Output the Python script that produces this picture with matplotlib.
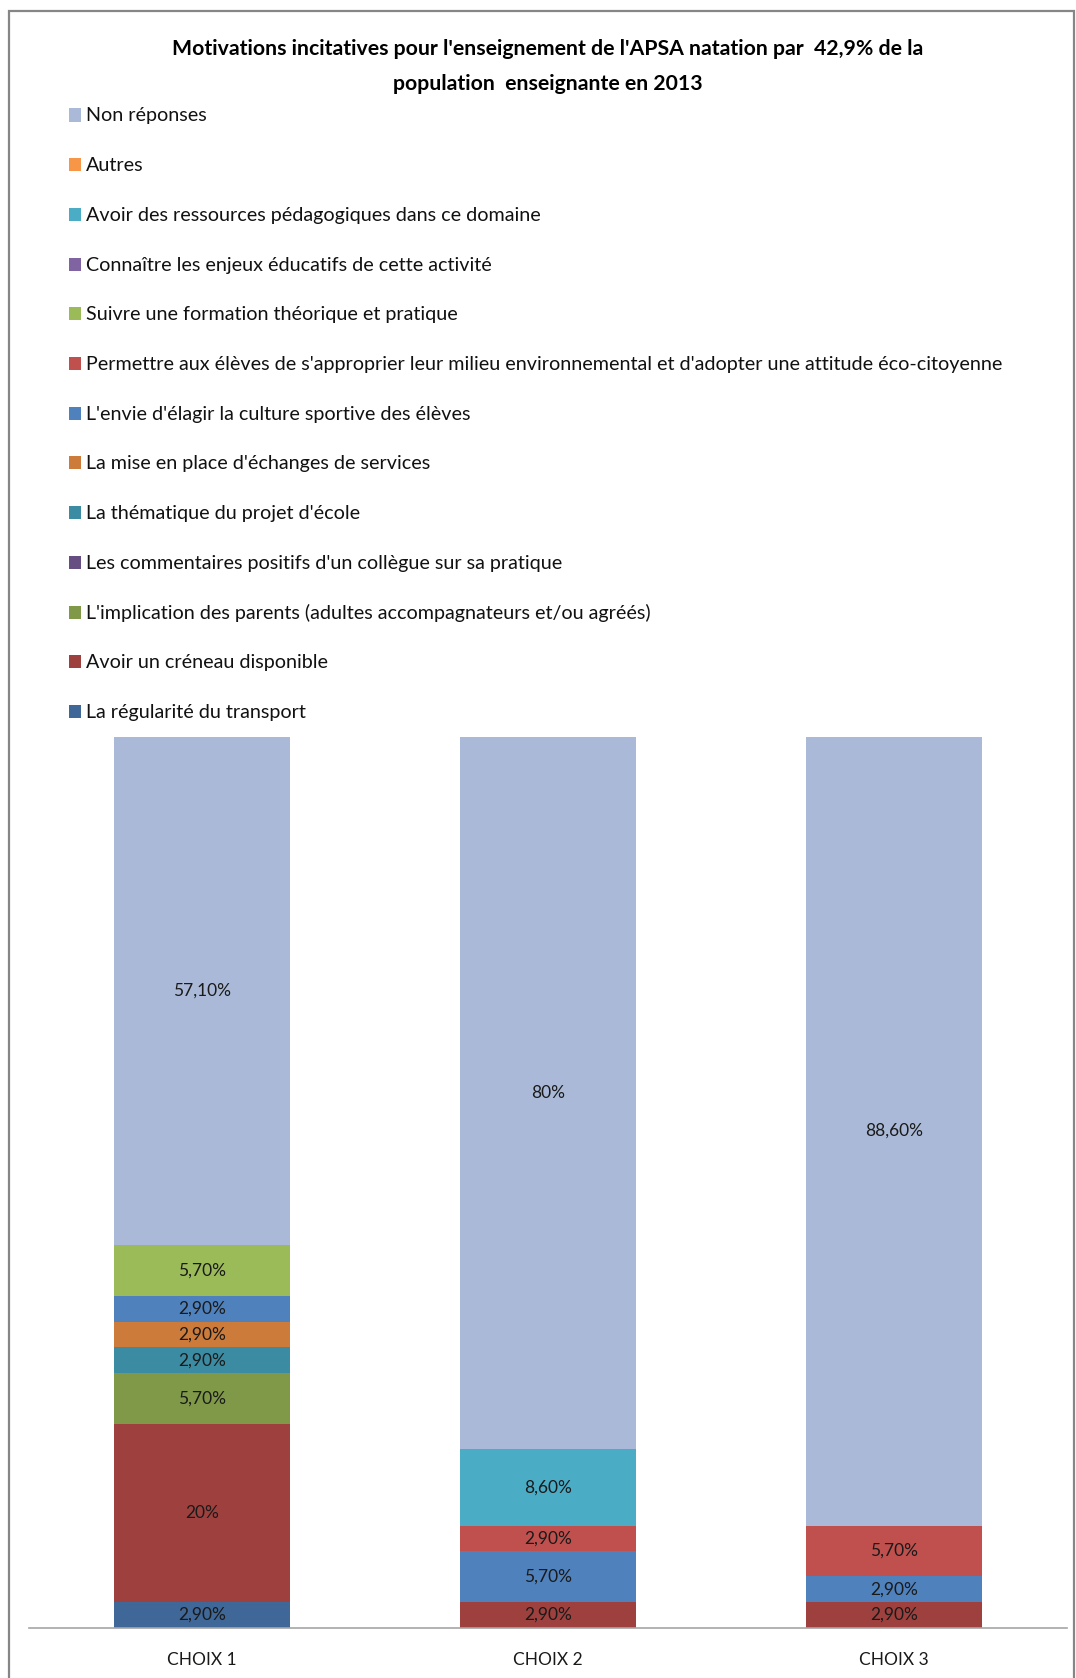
import matplotlib
matplotlib.use("Agg")
import matplotlib.pyplot as plt
from matplotlib.patches import Rectangle
import numpy as np

plt.rcParams['font.family'] = ['Lato', 'DejaVu Sans']

categories = ['CHOIX 1', 'CHOIX 2', 'CHOIX 3']

# series from bottom of the stack to the top
names = [
    "La régularité du transport",
    "Avoir un créneau disponible",
    "L'implication des parents (adultes accompagnateurs et/ou agréés)",
    "Les commentaires positifs d'un collègue sur sa pratique",
    "La thématique du projet d'école",
    "La mise en place d'échanges de services",
    "L'envie d'élagir la culture sportive des élèves",
    "Permettre aux élèves de s'approprier leur milieu environnemental et d'adopter une attitude éco-citoyenne",
    "Suivre une formation théorique et pratique",
    "Connaître les enjeux éducatifs de cette activité",
    "Avoir des ressources pédagogiques dans ce domaine",
    "Autres",
    "Non réponses",
]
transport = [2.9, 0, 0]
creneau = [20, 2.9, 2.9]
parents = [5.7, 0, 0]
commentaires = [0, 0, 0]
projet_ecole = [2.9, 0, 0]
echanges = [2.9, 0, 0]
culture = [2.9, 5.7, 2.9]
environnement = [0, 2.9, 5.7]
formation = [5.7, 0, 0]
enjeux = [0, 0, 0]
ressources = [0, 8.6, 0]
autres = [0, 0, 0]
non_reponses = [57.1, 80, 88.6]

series = [transport, creneau, parents, commentaires, projet_ecole, echanges,
          culture, environnement, formation, enjeux, ressources, autres, non_reponses]

colors = ['#3F6797', '#9E413E', '#7F9948', '#664E83', '#3B8CA3', '#CD7B3A',
          '#4F81BD', '#C0504D', '#9BBB59', '#8064A2', '#4BACC6', '#F79646', '#AAB9D7']

W, H = 1076, 1678
def fx(px):
    return px / W
def fy(py):
    return 1 - py / H

fig = plt.figure(figsize=(W / 100, H / 100), dpi=100)

# outer chart frame
fig.add_artist(Rectangle((fx(9), fy(1700)), fx(1074) - fx(9), fy(11) - fy(1700),
                         transform=fig.transFigure, fill=False, ec='#868686', lw=1.6))

fig.text(fx(548), fy(49), "Motivations incitatives pour l'enseignement de l'APSA natation par  42,9% de la",
         ha='center', va='center', fontsize=15.3, fontweight='bold', color='black')
fig.text(fx(548), fy(84), "population  enseignante en 2013",
         ha='center', va='center', fontsize=15.3, fontweight='bold', color='black')

# legend, drawn by hand in reverse order like the original
for i, k in enumerate(range(len(names) - 1, -1, -1)):
    base = 121.5 + i * 49.7
    fig.add_artist(Rectangle((fx(69), fy(base)), fx(81) - fx(69), fy(base - 13) - fy(base),
                             transform=fig.transFigure, color=colors[k], lw=0))
    fig.text(fx(86), fy(base), names[k], ha='left', va='baseline', fontsize=14.2, color='#111111')

ax = fig.add_axes([fx(29), fy(1628), fx(1067) - fx(29), fy(736.6) - fy(1628)])
x = np.arange(len(categories))
bottom = np.zeros(len(categories))
for vals, col in zip(series, colors):
    vals = np.array(vals, dtype=float)
    ax.bar(x, vals, width=0.51, bottom=bottom, color=col, lw=0)
    for xi, v, b in zip(x, vals, bottom):
        if v > 0:
            if float(v).is_integer():
                lab = f"{int(v)}%"
            else:
                lab = f"{v:.2f}".replace('.', ',') + "%"
            ax.text(xi, b + v / 2, lab, ha='center', va='center', fontsize=12.5, color='#1a1a1a')
    bottom += vals

ax.set_xlim(-0.5, 2.5)
ax.set_ylim(0, 100.1)
ax.set_yticks([])
ax.set_xticks(x)
ax.set_xticklabels(categories, fontsize=12.5, color='#1a1a1a')
ax.tick_params(axis='x', length=0, pad=17)
for s in ['top', 'left', 'right']:
    ax.spines[s].set_visible(False)
ax.spines['bottom'].set_color('#A6A6A6')
ax.spines['bottom'].set_linewidth(1.2)

fig.savefig('out.png', dpi=100)
